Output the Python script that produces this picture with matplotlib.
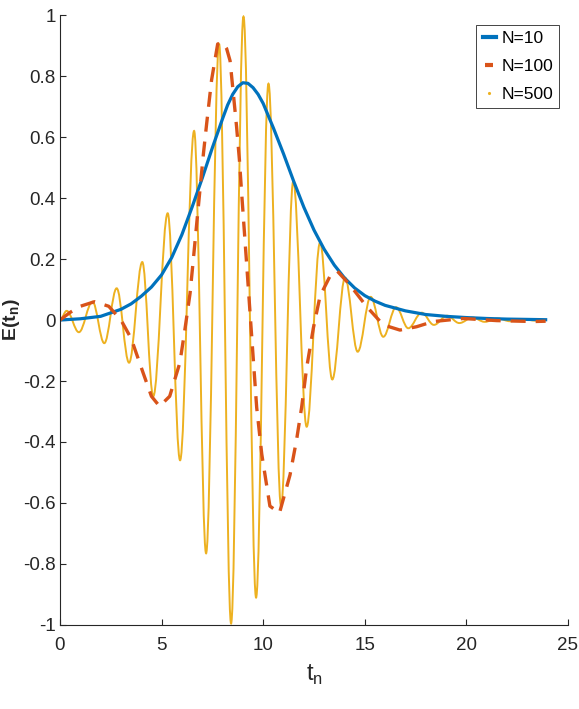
import matplotlib
matplotlib.use('Agg')
import matplotlib.pyplot as plt
from matplotlib.path import Path
from matplotlib.patches import PathPatch
from matplotlib.lines import Line2D

plt.rcParams['font.family'] = ['Liberation Sans Narrow', 'Liberation Sans', 'DejaVu Sans']
plt.rcParams['mathtext.fontset'] = 'custom'
plt.rcParams['mathtext.rm'] = 'Liberation Sans'
plt.rcParams['mathtext.bf'] = 'Liberation Sans:bold'

# N=10 : smooth bump
t10 = [0, 1, 2, 3, 3.5, 4, 4.5, 5, 5.5, 6, 6.5, 7, 7.5, 8, 8.25, 8.5, 8.75, 9, 9.25, 9.5, 9.75, 10, 10.5, 11, 11.5, 12, 12.5, 13, 13.5, 14, 14.5, 15, 15.5, 16, 17, 18, 19, 20, 21, 22, 23, 23.9]
e10 = [0, 0.004, 0.012, 0.035, 0.053, 0.078, 0.108, 0.148, 0.205, 0.28, 0.37, 0.465, 0.565, 0.66, 0.705, 0.74, 0.765, 0.778, 0.776, 0.762, 0.74, 0.71, 0.63, 0.545, 0.455, 0.37, 0.295, 0.232, 0.18, 0.138, 0.105, 0.08, 0.062, 0.048, 0.03, 0.018, 0.012, 0.008, 0.005, 0.003, 0.002, 0.001]

# N=100 : dashed
t100 = [0, 0.5, 1.0, 1.7, 2.4, 3.0, 3.5, 4.1, 4.5, 4.9, 5.4, 5.9, 6.15, 6.4, 6.56, 6.73, 7.06, 7.22, 7.46, 7.76, 8.0, 8.2, 8.37, 8.53, 8.69, 8.83, 8.94, 9.19, 9.43, 9.68, 9.93, 10.33, 10.8, 11.32, 11.65, 11.89, 12.14, 12.47, 12.8, 13.29, 13.65, 14.27, 15.09, 15.91, 16.73, 17.55, 18.37, 19.85, 21.5, 23.3, 23.9]
e100 = [0, 0.025, 0.045, 0.06, 0.045, 0.0, -0.06, -0.175, -0.25, -0.283, -0.25, -0.14, -0.03, 0.087, 0.197, 0.317, 0.546, 0.645, 0.787, 0.905, 0.91, 0.89, 0.85, 0.743, 0.634, 0.525, 0.416, 0.18, -0.05, -0.287, -0.44, -0.61, -0.633, -0.508, -0.39, -0.287, -0.156, -0.026, 0.079, 0.144, 0.16, 0.115, 0.044, -0.016, -0.033, -0.022, -0.005, 0.005, -0.002, -0.005, -0.004]

# N=500 : fast oscillation, turning points
t500 = [0, 0.33, 0.93, 1.6, 2.18, 2.79, 3.40, 4.05, 4.59, 5.30, 5.91, 6.6, 7.19, 7.83, 8.42, 9.03, 9.65, 10.26, 10.88, 11.48, 12.14, 12.8, 13.4, 14.03, 14.65, 15.29, 15.91, 16.54, 17.14, 17.8, 18.4, 19.05, 19.65, 20.3, 20.9, 21.55, 22.15, 22.8, 23.4, 23.9]
e500 = [0, 0.03, -0.04, 0.06, -0.076, 0.104, -0.14, 0.19, -0.25, 0.35, -0.46, 0.62, -0.765, 0.905, -0.995, 0.995, -0.91, 0.775, -0.61, 0.455, -0.35, 0.254, -0.195, 0.139, -0.104, 0.076, -0.055, 0.042, -0.027, 0.024, -0.016, 0.014, -0.01, 0.008, -0.006, 0.005, -0.004, 0.003, -0.002, 0.0]

labels = ['N=10', 'N=100', 'N=500']
xticks = [0, 5, 10, 15, 20, 25]
yticks = [-1, -0.8, -0.6, -0.4, -0.2, 0, 0.2, 0.4, 0.6, 0.8, 1]
yticklabels = ['-1', '-0.8', '-0.6', '-0.4', '-0.2', '0', '0.2', '0.4', '0.6', '0.8', '1']

blue, orange, yellow = '#0072BD', '#D95319', '#EDB120'

fig = plt.figure(figsize=(5.79, 7.09), dpi=100)
ax = fig.add_axes([0.1036, 0.1185, 0.8774, 0.8603])

ax.plot(t10, e10, color=blue, lw=2.3, solid_joinstyle='round')
ax.plot(t100, e100, color=orange, lw=2.4, dashes=(4.5, 3.0))

# smooth curve through the turning points (horizontal tangent at each)
verts = [(t500[0], e500[0])]
codes = [Path.MOVETO]
for i in range(1, len(t500)):
    a, b = t500[i - 1], t500[i]
    k = 0.364 * (b - a)
    verts += [(a + k, e500[i - 1]), (b - k, e500[i]), (b, e500[i])]
    codes += [Path.CURVE4] * 3
ax.add_patch(PathPatch(Path(verts, codes), fill=False, edgecolor=yellow, lw=1.4))

ax.set_xlim(0, 25)
ax.set_ylim(-1, 1)
ax.set_xticks(xticks)
ax.set_yticks(yticks)
ax.set_yticklabels(yticklabels)
for s in ['top', 'right']:
    ax.spines[s].set_visible(False)
for s in ['left', 'bottom']:
    ax.spines[s].set_color('#262626')
    ax.spines[s].set_linewidth(0.8)
ax.tick_params(direction='in', length=4, width=0.8, color='#262626', labelsize=13.5, labelcolor='#262626')
ax.tick_params(axis='x', pad=9)
ax.tick_params(axis='y', pad=3)

ax.set_xlabel(r'$\mathrm{t}_\mathrm{n}$', fontsize=17, color='#262626', labelpad=6)
ax.set_ylabel(r'$\mathbf{E(t}_\mathbf{n}\mathbf{)}$', fontsize=14, color='#262626')
ax.yaxis.set_label_coords(-0.074, 0.5)

handles = [Line2D([], [], color=blue, lw=3),
           Line2D([], [], color=orange, marker='_', ms=6, mew=3, ls='none'),
           Line2D([], [], color=yellow, marker='.', ms=2.5, ls='none')]
leg = ax.legend(handles, labels, loc='upper right', bbox_to_anchor=(0.99, 0.99), fontsize=12.5,
                handlelength=0.8, handletextpad=0.3, labelspacing=0.75, borderpad=0.35,
                fancybox=False, framealpha=1, borderaxespad=0.2)
leg.get_frame().set_edgecolor('#262626')
leg.get_frame().set_linewidth(0.6)

fig.savefig('out.png', dpi=100)
